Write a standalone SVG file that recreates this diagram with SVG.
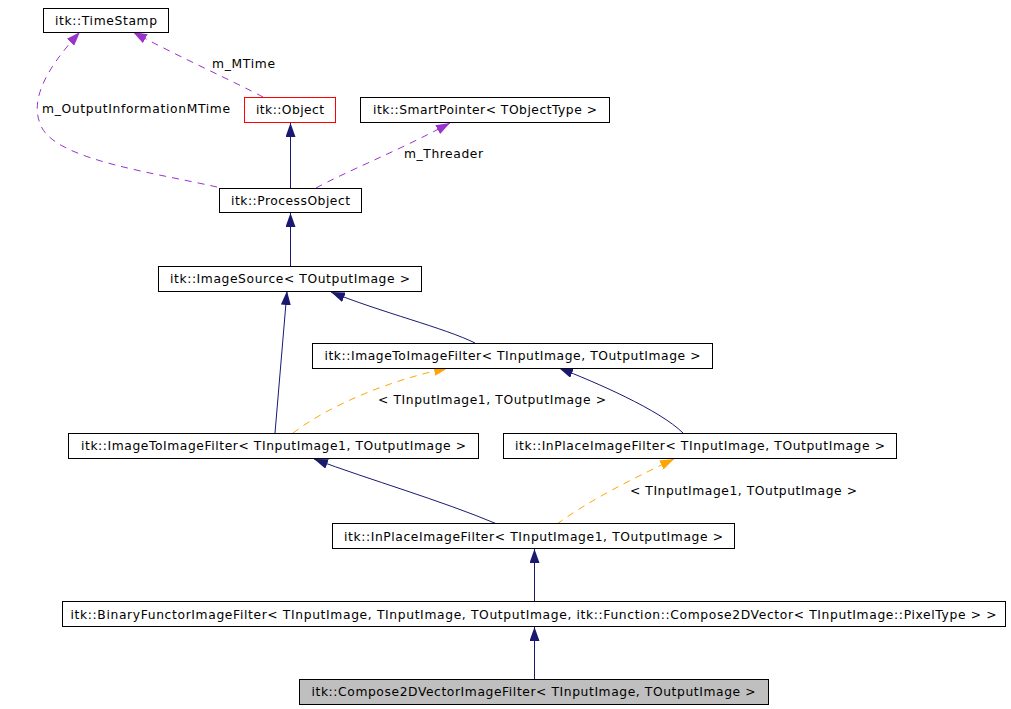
<svg xmlns="http://www.w3.org/2000/svg" width="1011" height="709" viewBox="0 0 1011 709">
<style>
  text { font-family: "DejaVu Sans", "Liberation Sans", sans-serif; font-size: 12.3px; fill: #000; }
  .node rect { fill: #fff; stroke: #000; stroke-width: 1; }
  .node text { text-anchor: middle; }
  .edge { fill: none; stroke-width: 1; }
  .inh { stroke: #191970; marker-end: url(#aNavy); }
  .use { stroke: #9a32cd; stroke-dasharray: 7,6; marker-end: url(#aPurple); }
  .tpl { stroke: #ffa500; stroke-dasharray: 7,6; marker-end: url(#aOrange); }
</style>
<defs>
  <marker id="aNavy" markerUnits="userSpaceOnUse" markerWidth="14" markerHeight="10" refX="14" refY="5" orient="auto">
    <path d="M0,0 L14,5 L0,10 z" fill="#191970"/>
  </marker>
  <marker id="aPurple" markerUnits="userSpaceOnUse" markerWidth="14" markerHeight="10" refX="14" refY="5" orient="auto">
    <path d="M0,0 L14,5 L0,10 z" fill="#9a32cd"/>
  </marker>
  <marker id="aOrange" markerUnits="userSpaceOnUse" markerWidth="14" markerHeight="10" refX="14" refY="5" orient="auto">
    <path d="M0,0 L14,5 L0,10 z" fill="#ffa500"/>
  </marker>
</defs>
<rect x="0" y="0" width="1011" height="709" fill="#fff"/>

<g id="connectors">
  <path class="edge inh" d="M290.5,188 L290.5,123"/>
  <path class="edge use" d="M316,188 C345,172 400,150 450,123"/>
  <path class="edge use" d="M263,97 C235,82 175,55 133,32"/>
  <path class="edge use" d="M217,187 C150,172 60,160 42,128 C30,105 40,75 80,32"/>
  <path class="edge inh" d="M290.5,266 L290.5,213"/>
  <path class="edge inh" d="M275,433 L287,291"/>
  <path class="edge inh" d="M475,343 C445,328 380,312 331,292"/>
  <path class="edge tpl" d="M293,433 C330,405 390,380 448,368"/>
  <path class="edge inh" d="M683,433 C660,410 595,382 559,368"/>
  <path class="edge inh" d="M497,524 C440,500 370,480 314,459"/>
  <path class="edge tpl" d="M557,524 C590,500 630,480 674,459"/>
  <path class="edge inh" d="M534.5,602 L534.5,549"/>
  <path class="edge inh" d="M534.5,679 L534.5,627"/>
  <text x="212" y="68" textLength="63">m_MTime</text>
  <text x="42" y="113" textLength="188">m_OutputInformationMTime</text>
  <text x="404" y="158" textLength="79">m_Threader</text>
  <text x="378" y="404" textLength="228">&lt; TInputImage1, TOutputImage &gt;</text>
  <text x="630" y="495" textLength="227">&lt; TInputImage1, TOutputImage &gt;</text>
</g>

<g id="node-TimeStamp" class="node">
  <rect x="43.5" y="8.5" width="125" height="24"/>
  <text x="106" y="25" textLength="102">itk::TimeStamp</text>
</g>
<g id="node-Object" class="node">
  <rect x="244.5" y="97.5" width="91" height="25" style="stroke:#ff0000"/>
  <text x="290" y="114" textLength="68">itk::Object</text>
</g>
<g id="node-SmartPointer" class="node">
  <rect x="360.5" y="97.5" width="249" height="25"/>
  <text x="485" y="114" textLength="224">itk::SmartPointer&lt; TObjectType &gt;</text>
</g>
<g id="node-ProcessObject" class="node">
  <rect x="219.5" y="188.5" width="142" height="24"/>
  <text x="290.5" y="205" textLength="119">itk::ProcessObject</text>
</g>
<g id="node-ImageSource" class="node">
  <rect x="158.5" y="266.5" width="263" height="25"/>
  <text x="290" y="283" textLength="240">itk::ImageSource&lt; TOutputImage &gt;</text>
</g>
<g id="node-ImageToImageFilter" class="node">
  <rect x="312.5" y="343.5" width="400" height="25"/>
  <text x="512.5" y="360" textLength="376">itk::ImageToImageFilter&lt; TInputImage, TOutputImage &gt;</text>
</g>
<g id="node-ImageToImageFilter1" class="node">
  <rect x="68.5" y="433.5" width="410" height="25"/>
  <text x="273.5" y="450" textLength="385">itk::ImageToImageFilter&lt; TInputImage1, TOutputImage &gt;</text>
</g>
<g id="node-InPlaceImageFilter" class="node">
  <rect x="503.5" y="433.5" width="393" height="25"/>
  <text x="700" y="450" textLength="370">itk::InPlaceImageFilter&lt; TInputImage, TOutputImage &gt;</text>
</g>
<g id="node-InPlaceImageFilter1" class="node">
  <rect x="332.5" y="523.5" width="402" height="25"/>
  <text x="533.5" y="541" textLength="379">itk::InPlaceImageFilter&lt; TInputImage1, TOutputImage &gt;</text>
</g>
<g id="node-BinaryFunctorImageFilter" class="node">
  <rect x="62.5" y="601.5" width="943" height="25"/>
  <text x="533.5" y="619" textLength="926">itk::BinaryFunctorImageFilter&lt; TInputImage, TInputImage, TOutputImage, itk::Function::Compose2DVector&lt; TInputImage::PixelType &gt; &gt;</text>
</g>
<g id="node-Compose2DVectorImageFilter" class="node">
  <rect x="299.5" y="679.5" width="469" height="25" style="fill:#bfbfbf"/>
  <text x="533.5" y="696" textLength="444">itk::Compose2DVectorImageFilter&lt; TInputImage, TOutputImage &gt;</text>
</g>
</svg>
